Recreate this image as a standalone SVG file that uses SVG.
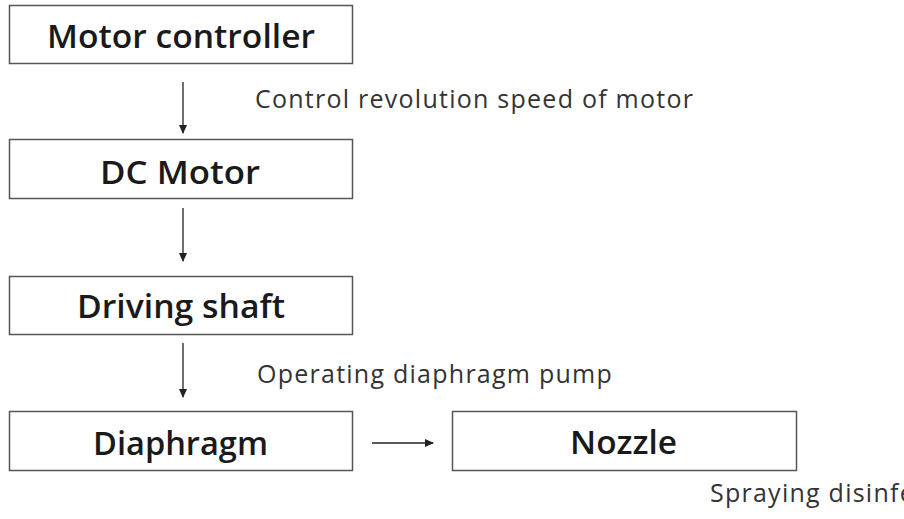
<svg xmlns="http://www.w3.org/2000/svg" width="904" height="519" viewBox="0 0 904 519">
<defs>
<marker id="ah" markerWidth="9" markerHeight="8" refX="8" refY="4" orient="auto" markerUnits="userSpaceOnUse">
<path d="M0,0 L9,4 L0,8 z" fill="#222"/>
</marker>
<style>
.box{fill:#fff;stroke:#555;stroke-width:1.5}
.lbl{font-family:"Open Sans","Noto Sans",sans-serif;font-size:32px;font-weight:600;fill:#1a1a1a;text-anchor:middle}
.note{font-family:"Open Sans","Noto Sans",sans-serif;font-size:25px;letter-spacing:1.25px;fill:#333}
.conn{stroke:#222;stroke-width:1.3;fill:none;marker-end:url(#ah)}
</style>
</defs>
<rect width="904" height="519" fill="#fff"/>
<g id="motor-controller"><rect class="box" x="9.5" y="5.5" width="343" height="58"/><text class="lbl" x="181" y="48" textLength="268" lengthAdjust="spacingAndGlyphs">Motor controller</text></g>
<g id="dc-motor"><rect class="box" x="9.5" y="139.5" width="343" height="59"/><text class="lbl" x="180" y="184" textLength="160" lengthAdjust="spacingAndGlyphs">DC Motor</text></g>
<g id="driving-shaft"><rect class="box" x="9.5" y="276.5" width="343" height="58"/><text class="lbl" x="181" y="318" textLength="208" lengthAdjust="spacingAndGlyphs">Driving shaft</text></g>
<g id="diaphragm"><rect class="box" x="9.5" y="411.5" width="343" height="59"/><text class="lbl" x="180.5" y="455" textLength="175" lengthAdjust="spacingAndGlyphs">Diaphragm</text></g>
<g id="nozzle"><rect class="box" x="452.5" y="411.5" width="344" height="59"/><text class="lbl" x="623.5" y="454" textLength="107" lengthAdjust="spacingAndGlyphs">Nozzle</text></g>
<g id="connectors">
<line class="conn" x1="183" y1="82" x2="183" y2="133"/>
<line class="conn" x1="183" y1="208" x2="183" y2="261"/>
<line class="conn" x1="183" y1="343" x2="183" y2="397"/>
<line class="conn" x1="372" y1="443" x2="433" y2="443"/>
</g>
<g id="notes">
<text class="note" x="255" y="108">Control revolution speed of motor</text>
<text class="note" x="257" y="383">Operating diaphragm pump</text>
<text class="note" x="710" y="502">Spraying disinfectant</text>
</g>
</svg>
